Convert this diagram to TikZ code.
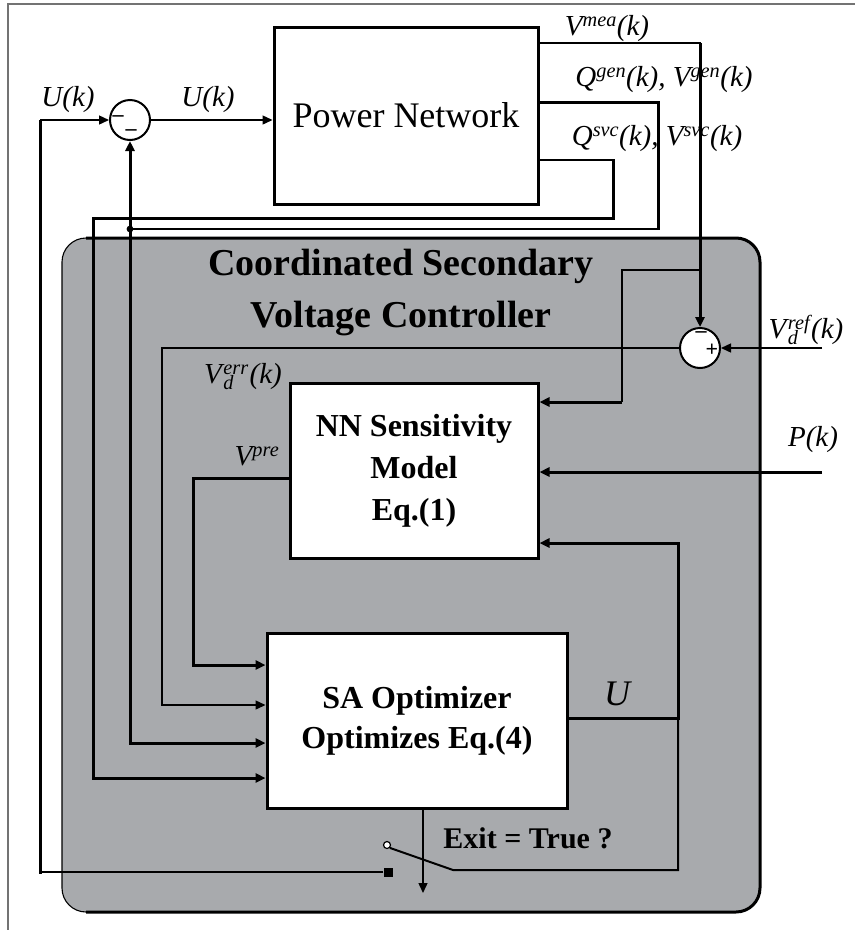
\documentclass[tikz,border=0pt]{standalone}
\usepackage{fontspec}
\setmainfont{Liberation Serif}
\usetikzlibrary{arrows.meta}
\definecolor{ctrlgray}{HTML}{A8AAAD}
\newcommand\SupSub[2]{\kern1.5pt\rlap{\textsubscript{#2}}\textsuperscript{#1}\kern1pt}
\begin{document}
\begin{tikzpicture}[x=1pt,y=-1pt,
  thinl/.style={line width=1.4pt},
  medl/.style={line width=2pt},
  thickl/.style={line width=3pt},
  arr/.style={-{Triangle[length=10pt,width=9pt]}},
  blk/.style={draw, line width=3pt, fill=white, inner sep=0pt, align=center},
  sumj/.style={circle, draw, line width=2pt, fill=white, minimum size=40pt, inner sep=0pt},
  lab/.style={font=\fontsize{29}{31}\selectfont\itshape, inner sep=0pt},
  sgn/.style={font=\fontsize{22}{24}\selectfont\bfseries, inner sep=0pt},
]
\useasboundingbox (0,0) rectangle (855,930);
\fill[white] (0,0) rectangle (855,930);
% outer frame
\draw[black!55, line width=1.2pt] (8,930) -- (8,4) -- (855,4);

% controller background
\fill[ctrlgray, rounded corners=24pt] (62,238) rectangle (760,912);
\draw[line width=1.1pt, rounded corners=24pt] (62,238) rectangle (760,912);
\draw[line width=3pt, rounded corners=24pt] (86,238) -- (760,238) -- (760,912) -- (86,912);

\node[font=\fontsize{38}{52}\selectfont\bfseries, align=center, inner sep=0pt] (title) at (401,293)
  {Coordinated Secondary\\Voltage Controller};

% blocks
\node[blk, minimum width=264pt, minimum height=177pt, font=\fontsize{36}{40}\selectfont] (pn) at (406,115.5) {Power Network};
\node[blk, minimum width=248pt, minimum height=175pt, font=\fontsize{32}{42}\selectfont\bfseries] (nn) at (414,470.5) {NN Sensitivity\\Model\\Eq.(1)};
\node[blk, minimum width=300pt, minimum height=175pt, font=\fontsize{32}{40}\selectfont\bfseries] (sa) at (417,721) {SA Optimizer\\Optimizes Eq.(4)};

% summing junctions
\node[sumj] (s1) at (130,120) {};
\node[sgn] (s1a) at (118,119) {–};
\node[sgn] (s1b) at (131,133) {–};
\node[sumj] (s2) at (700,348) {};
\node[sgn] (s2a) at (701,335) {–};
\node[sgn] (s2b) at (712,350) {+};

% switch
\node[fill=black, minimum size=9pt, inner sep=0pt] (swC) at (388,872) {};
\coordinate (swB) at (453,870);
\node[circle, draw, fill=white, line width=1.2pt, minimum size=7pt, inner sep=0pt] (swO) at (387,845) {};

% U(k) return loop
\draw[thinl] (swC.west) -- (40,872);
\draw[thickl] (40,873.5) -- (40,120);
\draw[thinl, arr] (40,120) -- (s1.west);
\draw[thinl, arr] (s1.east) -- (pn.west |- s1.east);

% power network outputs
\draw[thinl] (pn.east |- 0,43) -- (701,43);
\draw[thickl, arr] (700,43) -- (s2.north);
\draw[medl] (700,270) -- (622,270) -- (622,402);
\draw[thickl, arr] (622,402) -- (nn.east |- 0,402);

\draw[thickl] (pn.east |- 0,102) -- (658,102) -- (658,230);
\draw[thinl] (658,229) -- (s1.south |- 0,229);
\fill (s1.south |- 0,229) circle (3.4pt);

\draw[thinl] (pn.east |- 0,160) -- (613,160);
\draw[thickl, arr] (613,159) -- (613,218) -- (93,218) -- (93,778) -- (sa.west |- 0,778);

\draw[thickl, arr] (s1.south |- 0,229) -- (s1.south);
\draw[thickl, arr] (s1.south |- 0,229) -- (s1.south |- 0,743) -- (sa.west |- 0,743);

% error and prediction
\draw[thinl, arr] (s2.west) -- (162,348) -- (162,705) -- (sa.west |- 0,705);
\draw[thickl, arr] (nn.west |- 0,478) -- (193,478) -- (193,665) -- (sa.west |- 0,665);

% external inputs
\draw[thinl, arr] (822,348) -- (s2.east);
\draw[thickl, arr] (822,472) -- (nn.east |- 0,472);

% U feedback
\draw[thickl] (sa.east |- 0,718) -- (678,718);
\draw[thickl, arr] (678,719.5) -- (678,543) -- (nn.east |- 0,543);
\draw[medl] (678,718) -- (678,870) -- (swB) -- (swO.south east);
\draw[thinl, arr] (sa.south -| 423,0) -- (423,893);

% labels
\node[lab] (lU1) at (68,100) {U(k)};
\node[lab] (lU2) at (208,100) {U(k)};
\node[lab] (lVmea) at (607,29) {V\textsuperscript{mea}(k)};
\node[lab] (lQ1) at (664,80) {Q\textsuperscript{gen}(k), V\textsuperscript{gen}(k)};
\node[lab] (lQ2) at (657,139) {Q\textsuperscript{svc}(k), V\textsuperscript{svc}(k)};
\node[lab] (lVref) at (806,330) {V\SupSub{ref}{d}(k)};
\node[lab] (lP) at (813,440) {P(k)};
\node[lab] (lVerr) at (243,377) {V\SupSub{err}{d}(k)};
\node[lab] (lVpre) at (257,456) {V\textsuperscript{pre}};
\node[lab, font=\fontsize{36}{38}\selectfont\itshape] (lU) at (617,694) {U};
\node[font=\fontsize{30}{32}\selectfont\bfseries, inner sep=0pt] (exit) at (528,838) {Exit = True ?};
\end{tikzpicture}
\end{document}
